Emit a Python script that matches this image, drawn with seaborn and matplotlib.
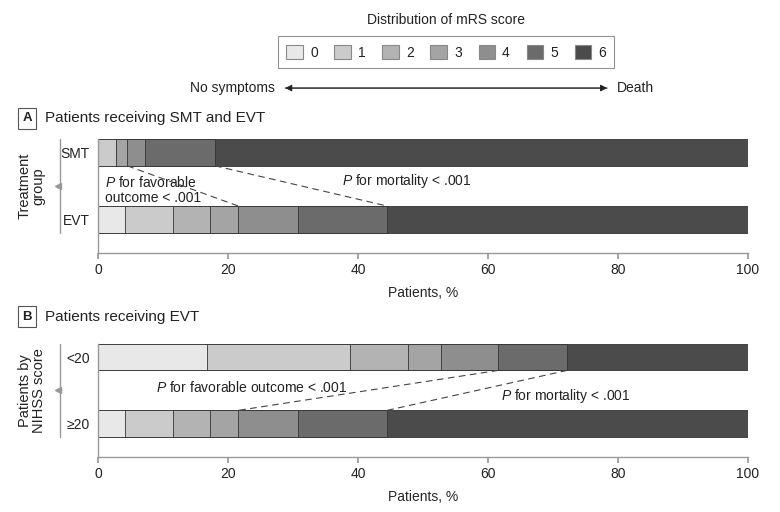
"""Stacked mRS distribution bars for two patient comparisons."""

import matplotlib.pyplot as plt
import matplotlib.patches as mpatches
import numpy as np
import pandas as pd
import seaborn as sns

scores = ["0", "1", "2", "3", "4", "5", "6"]
colors = ["#e8e8e8", "#cbcbcb", "#b3b3b3", "#a4a4a4", "#8e8e8e", "#6b6b6b", "#4b4b4b"]

groups_a = ["SMT", "EVT"]
smt = [0, 2.7, 0, 1.8, 2.7, 10.8, 82.0]
evt = [4.1, 7.4, 5.7, 4.4, 9.2, 13.7, 55.5]

groups_b = ["<20", "≥20"]
nihss_lt20 = [16.7, 22.1, 8.9, 5.1, 8.8, 10.6, 27.8]
nihss_ge20 = [4.1, 7.4, 5.7, 4.4, 9.2, 13.7, 55.5]

# which cumulative boundary each dashed connector joins (top bar, bottom bar)
links_a = [(3, 3), (5, 5)]
links_b = [(4, 3), (5, 5)]

sns.set_theme(style="ticks")
plt.rcParams["font.family"] = ["Liberation Sans", "DejaVu Sans"]
plt.rcParams["mathtext.fontset"] = "custom"
plt.rcParams["mathtext.rm"] = "Liberation Sans"
plt.rcParams["mathtext.it"] = "Liberation Sans:italic"
plt.rcParams["text.color"] = "#222222"

fig = plt.figure(figsize=(7.8, 5.12), dpi=100)
ax_a = fig.add_axes([0.1256, 0.5059, 0.8333, 0.2227])
ax_b = fig.add_axes([0.1256, 0.1074, 0.8333, 0.2213])


def draw_panel(ax, groups, rows, links, ylabel):
    cum = np.cumsum(np.array(rows), axis=1)
    df = pd.DataFrame(cum, columns=scores)
    df["group"] = groups
    for i in reversed(range(len(scores))):
        sns.barplot(data=df, x=scores[i], y="group", order=groups, color=colors[i],
                    orient="h", width=0.4, edgecolor="#333333", linewidth=0.6,
                    saturation=1, ax=ax)
    ax.set_xlim(0, 100)
    ax.set_ylim(1.5, -0.2)
    ax.set_xticks([0, 20, 40, 60, 80, 100])
    ax.set_xlabel("Patients, %", fontsize=10, labelpad=6)
    ax.set_ylabel("")
    ax.tick_params(axis="x", length=4, color="#999999", labelsize=10, labelcolor="#222222")
    ax.tick_params(axis="y", length=0, pad=6, labelsize=10, labelcolor="#222222")
    sns.despine(ax=ax)
    for s in ("left", "bottom"):
        ax.spines[s].set_color("#999999")
        ax.spines[s].set_linewidth(1)

    for top_i, bot_i in links:
        ax.plot([cum[0, top_i], cum[1, bot_i]], [0.2, 0.8], ls=(0, (6, 4)),
                color="#444444", lw=0.8)

    tr = ax.get_yaxis_transform()
    ax.plot([-0.0585, -0.0585], [-0.2, 1.2], color="#999999", lw=1,
            transform=tr, clip_on=False)
    ax.plot([-0.062], [0.5], marker="<", color="#999999", ms=4,
            transform=tr, clip_on=False)
    ax.text(-0.102, 0.5, ylabel, rotation=90, ha="center", va="center",
            fontsize=10.5, transform=tr, linespacing=1.0)
    return cum


draw_panel(ax_a, groups_a, [smt, evt], links_a, "Treatment\ngroup")
draw_panel(ax_b, groups_b, [nihss_lt20, nihss_ge20], links_b, "Patients by\nNIHSS score")

ax_a.text(1.1, 0.56, "$P$ for favorable\noutcome < .001", fontsize=10, va="center",
          ha="left", linespacing=1.05)
ax_a.text(37.5, 0.43, "$P$ for mortality < .001", fontsize=10, va="center", ha="left")
ax_b.text(9.0, 0.45, "$P$ for favorable outcome < .001", fontsize=10, va="center", ha="left")
ax_b.text(62.0, 0.59, "$P$ for mortality < .001", fontsize=10, va="center", ha="left")

# panel headers
for y, letter, title in [(0.769, "A", "Patients receiving SMT and EVT"),
                         (0.3815, "B", "Patients receiving EVT")]:
    fig.text(0.0346, y, letter, fontsize=9.5, fontweight="bold", ha="center", va="center",
             bbox=dict(boxstyle="square,pad=0.35", facecolor="white", edgecolor="#555555", lw=0.8))
    fig.text(0.0577, y, title, fontsize=11, ha="left", va="center")

# legend
handles = [mpatches.Patch(facecolor=c, edgecolor="#888888", lw=0.8, label=s)
           for c, s in zip(colors, scores)]
leg = fig.legend(handles=handles, loc="center", bbox_to_anchor=(0.572, 0.898), ncol=7,
                 fontsize=10, frameon=True, fancybox=False, handlelength=1.2,
                 handleheight=1.2, handletextpad=0.5, columnspacing=1.2,
                 borderpad=0.6, edgecolor="#777777")
leg.get_frame().set_linewidth(0.8)
fig.text(0.572, 0.961, "Distribution of mRS score", fontsize=10, ha="center", va="center")

for a, b in [((0.362, 0.828), (0.782, 0.828)), ((0.782, 0.828), (0.362, 0.828))]:
    fig.add_artist(mpatches.FancyArrowPatch(a, b, transform=fig.transFigure,
                                            arrowstyle="-|>,head_length=4,head_width=2",
                                            color="#222222", lw=0.7))
fig.text(0.353, 0.828, "No symptoms", fontsize=10, ha="right", va="center")
fig.text(0.791, 0.828, "Death", fontsize=10, ha="left", va="center")

fig.savefig("out.png", dpi=100, facecolor="white")
